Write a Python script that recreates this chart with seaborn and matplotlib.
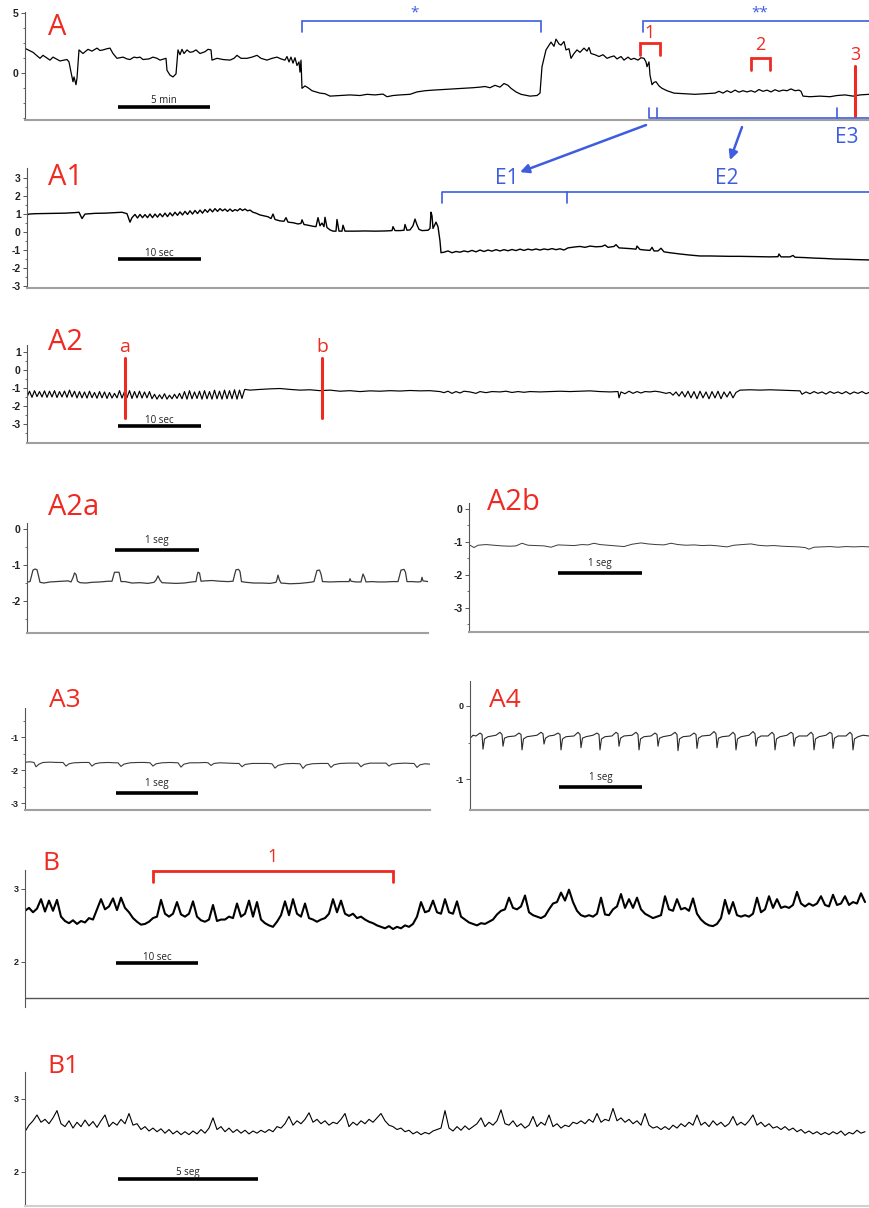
import numpy as np
import matplotlib
matplotlib.use("Agg")
import matplotlib.pyplot as plt
import seaborn as sns

sns.set_style("ticks")
plt.rcParams['font.family'] = ['Open Sans', 'DejaVu Sans']
plt.rcParams['axes.unicode_minus'] = False

W, H = 869, 1208
RED = '#ee2a22'
BLUE = '#3d5ce0'

# ---- traces: (time in samples, value in y-axis units)
a_trace = [(0, 2.03), (8, 1.7), (15, 1.2), (18, 1.45), (25, 1.05), (28, 1.3), (35, 0.98), (42, 1.1), (44, 0.9),
           (46, 0.05), (48, -0.75), (49, -0.35), (51, -1.0), (52, -0.45), (54, 1.9), (58, 1.6), (63, 1.95),
           (67, 1.8), (72, 2.05), (75, 1.85), (78, 1.9), (82, 2.0), (85, 2.05), (88, 1.6), (92, 1.2), (98, 1.3),
           (102, 1.15), (105, 1.1), (109, 1.3), (112, 1.25), (115, 1.3), (118, 1.1), (124, 1.15), (128, 1.3),
           (132, 1.2), (135, 1.05), (141, 1.2), (142, 0.2), (145, -0.2), (148, -0.35), (151, -0.1), (153, 1.9),
           (155, 1.5), (157, 1.95), (159, 1.6), (162, 1.9), (165, 1.7), (168, 1.75), (171, 1.9), (175, 1.6),
           (180, 1.75), (183, 1.95), (186, 1.9), (187, 1.05), (192, 1.2), (198, 1.1), (205, 1.05), (209, 1.2),
           (212, 1.45), (216, 1.2), (222, 1.2), (227, 1.3), (232, 1.45), (236, 1.2), (242, 1.05), (247, 1.2),
           (252, 1.3), (256, 1.15), (260, 1.05), (262, 1.35), (264, 0.9), (266, 1.3), (268, 0.8), (270, 1.25),
           (272, 0.6), (274, 0.9), (275, 0.05), (276, 1.05), (277, -1.3), (280, -1.1), (283, -1.25), (287, -1.5),
           (291, -1.6), (295, -1.7), (300, -1.75), (305, -1.95), (315, -1.9), (325, -1.85), (335, -1.9),
           (342, -1.8), (350, -1.85), (358, -1.78), (362, -2.0), (368, -1.9), (375, -1.85), (385, -1.8),
           (392, -1.6), (400, -1.5), (408, -1.45), (418, -1.4), (428, -1.35), (438, -1.3), (448, -1.25),
           (455, -1.2), (460, -1.15), (465, -1.25), (470, -1.05), (475, -1.2), (479, -0.9), (483, -1.05),
           (486, -1.3), (491, -1.6), (496, -1.8), (505, -1.95), (512, -1.9), (515, -1.7), (517, 0.5), (521, 1.9),
           (524, 2.3), (526, 2.55), (529, 2.2), (531, 2.8), (534, 2.4), (536, 2.3), (539, 2.6), (541, 1.9),
           (544, 2.0), (546, 1.2), (549, 1.6), (552, 1.9), (555, 1.7), (559, 2.05), (562, 1.8), (564, 2.1),
           (566, 1.6), (570, 1.5), (574, 1.35), (578, 1.5), (582, 1.2), (585, 1.3), (589, 1.4), (592, 1.15),
           (596, 1.35), (599, 1.05), (603, 1.3), (606, 1.1), (609, 1.2), (613, 1.05), (616, 1.25), (619, 1.2),
           (621, 0.9), (622, 0.5), (624, 0.9), (625, -0.2), (627, -1.0), (629, -0.8), (631, -0.75), (634, -1.1),
           (637, -1.3), (642, -1.5), (649, -1.7), (660, -1.75), (670, -1.8), (680, -1.75), (690, -1.7),
           (694, -1.55), (698, -1.7), (702, -1.5), (706, -1.65), (710, -1.45), (714, -1.62), (718, -1.5),
           (722, -1.6), (726, -1.5), (730, -1.62), (734, -1.4), (738, -1.55), (742, -1.45), (746, -1.6),
           (750, -1.42), (754, -1.55), (758, -1.45), (762, -1.5), (766, -1.35), (770, -1.5), (774, -1.45),
           (776, -1.55), (778, -1.95), (785, -2.0), (795, -1.95), (805, -2.0), (812, -1.9), (820, -1.85),
           (828, -1.95), (835, -1.85), (844, -1.8)]

a1_trace = [(27, 0.95), (29, 1.0), (35, 1.02), (45, 1.03), (55, 1.04), (65, 1.05), (75, 1.08), (79, 1.1),
            (82, 0.75), (85, 1.0), (95, 1.04), (105, 1.05), (115, 1.08), (122, 1.1), (127, 1.02), (130, 0.55),
            (132, 0.8), (135, 0.98), (137.5, 0.78), (140, 0.98), (142.5, 0.8), (145, 0.97), (147.5, 0.8),
            (150, 1.0), (152.5, 0.8), (155, 1.0), (157.5, 0.83), (160, 1.02), (162.5, 0.85), (165, 1.05),
            (167.5, 0.86), (170, 1.07), (172.5, 0.9), (175, 1.1), (177.5, 0.93), (180, 1.12), (182.5, 0.95),
            (185, 1.15), (187.5, 0.98), (190, 1.18), (192.5, 1.0), (195, 1.2), (197.5, 1.03), (200, 1.22),
            (202.5, 1.05), (205, 1.25), (207.5, 1.1), (210, 1.28), (212.5, 1.12), (215, 1.3), (217.5, 1.15),
            (220, 1.3), (222.5, 1.18), (225, 1.28), (227.5, 1.15), (230, 1.28), (232.5, 1.15), (235, 1.25),
            (237.5, 1.18), (240, 1.3), (242.5, 1.2), (245, 1.28), (247.5, 1.18), (250, 1.22), (253, 1.1),
            (256, 1.05), (260, 0.95), (264, 0.9), (268, 0.85), (271, 0.75), (273, 1.0), (275, 0.7), (280, 0.62),
            (284, 0.6), (286, 0.8), (288, 0.55), (293, 0.52), (298, 0.45), (301, 0.48), (302, 0.68), (304, 0.42),
            (308, 0.38), (313, 0.32), (316, 0.3), (318, 0.8), (320, 0.35), (322, 0.5), (324, 0.3), (325, 0.82),
            (327, 0.25), (330, 0.12), (333, 0.05), (336, 0.05), (337, 0.7), (339, 0.05), (342, 0.05), (343, 0.38),
            (345, 0.05), (355, 0.05), (365, 0.06), (375, 0.05), (385, 0.06), (392, 0.08), (393, 0.3), (395, 0.08),
            (400, 0.08), (404, 0.1), (405, 0.42), (407, 0.1), (410, 0.12), (413, 0.35), (415, 0.72), (417, 0.4),
            (419, 0.15), (422, 0.08), (428, 0.1), (430, 0.2), (431, 1.1), (432, 0.9), (433, 0.2), (436, 0.55),
            (438, 0.3), (440, -0.5), (441, -1.15), (444, -1.12), (448, -1.05), (452, -1.15), (456, -1.08),
            (460, -1.12), (464, -1.05), (468, -1.1), (472, -1.02), (476, -1.1), (480, -1.0), (484, -1.08),
            (488, -1.0), (492, -1.06), (496, -0.98), (500, -1.05), (504, -0.98), (508, -1.04), (512, -0.97),
            (516, -1.03), (520, -0.95), (524, -1.02), (528, -0.95), (532, -1.0), (536, -0.94), (540, -1.0),
            (544, -0.94), (548, -0.98), (552, -0.92), (556, -0.98), (560, -0.93), (564, -1.0), (568, -0.88),
            (572, -0.85), (576, -0.82), (580, -0.8), (585, -0.85), (590, -0.78), (596, -0.82), (602, -0.8),
            (605, -0.72), (608, -0.85), (614, -0.8), (616, -0.7), (619, -0.88), (625, -0.9), (630, -0.92),
            (636, -0.95), (637, -0.78), (640, -0.97), (645, -1.0), (650, -1.02), (652, -0.85), (654, -1.05),
            (658, -1.05), (661, -0.9), (664, -1.1), (670, -1.15), (680, -1.22), (690, -1.28), (700, -1.33),
            (710, -1.33), (720, -1.34), (730, -1.35), (740, -1.35), (750, -1.36), (760, -1.37), (770, -1.38),
            (778, -1.37), (779, -1.22), (781, -1.38), (790, -1.38), (793, -1.3), (795, -1.4), (805, -1.42),
            (815, -1.45), (825, -1.47), (835, -1.5), (845, -1.51), (855, -1.53), (869, -1.55)]

# A2: regular burst (one value every 2.5 samples from t=27), then the quieter part
a2_burst = [-1.5, -1.18, -1.52, -1.15, -1.48, -1.2, -1.5, -1.16, -1.52, -1.18, -1.5, -1.15, -1.53, -1.2,
            -1.5, -1.17, -1.52, -1.12, -1.5, -1.18, -1.55, -1.2,
            -1.55, -1.22, -1.56, -1.18, -1.54, -1.25, -1.57, -1.2, -1.55, -1.22, -1.58, -1.25, -1.56, -1.3,
            -1.55, -1.15, -1.56, -1.2, -1.54, -1.15, -1.58, -1.2, -1.55, -1.18, -1.56, -1.22, -1.55, -1.2,
            -1.6, -1.35, -1.62, -1.38, -1.6, -1.32, -1.62, -1.4, -1.6, -1.35, -1.58, -1.3,
            -1.6, -1.2, -1.62, -1.15, -1.6, -1.22, -1.58, -1.18, -1.62, -1.15, -1.6, -1.2, -1.62, -1.12,
            -1.6, -1.18, -1.62, -1.12, -1.6, -1.15, -1.6, -1.1, -1.62, -1.12, -1.58, -1.1]
a2_rest = [(245, -1.08), (250, -1.12), (260, -1.08), (270, -1.05), (280, -1.03), (290, -1.08), (300, -1.12),
           (310, -1.1), (320, -1.15), (330, -1.12), (340, -1.18), (350, -1.15), (360, -1.2), (370, -1.16),
           (380, -1.18), (390, -1.15), (400, -1.17), (410, -1.14), (420, -1.16), (430, -1.15), (440, -1.2),
           (444, -1.26), (448, -1.18), (452, -1.3), (456, -1.2), (460, -1.28), (464, -1.18), (470, -1.22),
           (476, -1.3), (480, -1.2), (486, -1.26), (492, -1.2), (500, -1.22), (506, -1.18), (512, -1.25),
           (518, -1.2), (524, -1.24), (530, -1.2), (540, -1.22), (550, -1.2), (560, -1.18), (570, -1.2),
           (580, -1.18), (590, -1.16), (600, -1.2), (610, -1.22), (618, -1.2), (619, -1.55), (621, -1.22),
           (625, -1.32), (629, -1.18), (633, -1.3), (637, -1.2), (641, -1.28), (645, -1.2), (650, -1.22),
           (655, -1.18), (660, -1.22), (666, -1.3), (670, -1.25), (673, -1.4), (676, -1.22), (679, -1.45),
           (682, -1.2), (685, -1.5), (688, -1.18), (691, -1.55), (694, -1.2), (697, -1.6), (700, -1.18),
           (703, -1.55), (706, -1.22), (709, -1.6), (712, -1.2), (715, -1.55), (718, -1.18), (721, -1.6),
           (724, -1.22), (727, -1.5), (730, -1.2), (733, -1.55), (736, -1.25), (740, -1.12), (750, -1.1),
           (760, -1.12), (770, -1.1), (780, -1.12), (790, -1.14), (800, -1.16), (802, -1.35), (806, -1.22),
           (810, -1.32), (814, -1.2), (818, -1.3), (822, -1.22), (826, -1.34), (830, -1.2), (834, -1.3),
           (838, -1.22), (842, -1.32), (846, -1.2), (850, -1.34), (854, -1.22), (858, -1.3), (862, -1.2),
           (866, -1.32), (869, -1.25)]

a2a_trace = [(28, -1.47), (30, -1.46), (31.5, -1.3), (33, -1.14), (35, -1.11), (37, -1.13), (38.5, -1.3),
             (40, -1.48), (44, -1.5), (50, -1.47), (56, -1.46), (62, -1.45), (68, -1.44), (71, -1.47),
             (73, -1.35), (74.5, -1.22), (76, -1.26), (77.5, -1.45), (80, -1.49), (86, -1.5), (92, -1.48),
             (100, -1.47), (108, -1.45), (112, -1.45), (113.5, -1.3), (114.5, -1.2), (119, -1.2), (120, -1.32),
             (121, -1.46), (125, -1.46), (132, -1.5), (140, -1.49), (148, -1.51), (154, -1.48), (156, -1.42),
             (158, -1.3), (160, -1.42), (162, -1.49), (168, -1.5), (176, -1.51), (184, -1.5), (192, -1.47),
             (196, -1.46), (197, -1.3), (198, -1.2), (199.5, -1.22), (201, -1.45), (205, -1.44), (212, -1.43),
             (220, -1.45), (228, -1.46), (233, -1.45), (234.5, -1.28), (236, -1.13), (238.5, -1.12),
             (240, -1.18), (241.5, -1.46), (246, -1.48), (254, -1.5), (262, -1.5), (270, -1.51), (276, -1.48),
             (277, -1.4), (278, -1.28), (279.5, -1.42), (281, -1.5), (290, -1.52), (300, -1.51), (310, -1.48),
             (314, -1.46), (315.5, -1.3), (317, -1.15), (319.5, -1.14), (321, -1.25), (322.5, -1.46),
             (330, -1.47), (340, -1.46), (349, -1.46), (350, -1.38), (351, -1.45), (356, -1.47), (361, -1.47),
             (362, -1.35), (363, -1.25), (364.5, -1.34), (366, -1.47), (372, -1.46), (378, -1.47), (385, -1.47),
             (392, -1.46), (398, -1.46), (399.5, -1.3), (401, -1.14), (404, -1.12), (405.5, -1.2), (407, -1.46),
             (412, -1.46), (418, -1.47), (421, -1.46), (422, -1.34), (423, -1.44), (428, -1.46)]

a2b_trace = [(470, -1.10), (474, -1.17), (478, -1.10), (486, -1.08), (494, -1.10), (502, -1.12), (510, -1.13),
             (516, -1.12), (522, -1.04), (528, -1.10), (536, -1.11), (544, -1.12), (551, -1.16), (558, -1.09),
             (566, -1.10), (574, -1.11), (582, -1.08), (588, -1.09), (594, -1.04), (600, -1.08), (608, -1.10),
             (616, -1.12), (624, -1.14), (632, -1.07), (641, -1.03), (648, -1.06), (656, -1.08), (664, -1.09),
             (671, -1.04), (678, -1.08), (686, -1.10), (694, -1.09), (702, -1.11), (710, -1.10), (718, -1.12),
             (727, -1.15), (734, -1.10), (742, -1.08), (751, -1.06), (758, -1.10), (766, -1.12), (774, -1.11),
             (782, -1.13), (790, -1.14), (798, -1.15), (805, -1.17), (809, -1.22), (814, -1.16), (822, -1.15),
             (830, -1.14), (838, -1.16), (846, -1.14), (854, -1.15), (862, -1.14), (869, -1.15)]

a3_trace = [(26, -1.76), (30, -1.75), (34, -1.77), (36, -1.9), (39, -1.82), (43, -1.77), (50, -1.76), (57, -1.77),
            (63, -1.77), (66, -1.88), (69, -1.81), (74, -1.78), (82, -1.77), (89, -1.77), (92, -1.88), (95, -1.81),
            (100, -1.78), (108, -1.77), (115, -1.78), (118, -1.78), (121, -1.89), (124, -1.82), (130, -1.78),
            (138, -1.77), (145, -1.77), (150, -1.78), (153, -1.88), (156, -1.81), (162, -1.78), (170, -1.77),
            (178, -1.78), (181, -1.91), (184, -1.82), (190, -1.78), (198, -1.78), (205, -1.77), (208, -1.78),
            (211, -1.86), (214, -1.8), (220, -1.78), (228, -1.79), (236, -1.8), (239, -1.8), (242, -1.9),
            (245, -1.83), (252, -1.8), (260, -1.8), (268, -1.8), (272, -1.81), (275, -1.94), (278, -1.86),
            (285, -1.81), (293, -1.8), (300, -1.81), (303, -1.95), (306, -1.85), (312, -1.81), (320, -1.8),
            (328, -1.8), (331, -1.92), (334, -1.84), (340, -1.8), (348, -1.79), (355, -1.79), (358, -1.79),
            (361, -1.9), (364, -1.83), (370, -1.79), (378, -1.79), (386, -1.79), (389, -1.88), (392, -1.82),
            (398, -1.8), (405, -1.79), (412, -1.8), (414, -1.8), (417, -1.92), (420, -1.84), (425, -1.81),
            (430, -1.82)]

a4_trace = [(471, -0.43), (473, -0.40),
            (476, -0.41), (480, -0.37), (482, -0.39), (483, -0.59), (484.5, -0.45), (488, -0.42),
            (496, -0.40), (500, -0.36), (502, -0.39), (503, -0.55), (504.5, -0.44), (508, -0.42),
            (515, -0.41), (519, -0.37), (521, -0.39), (522, -0.60), (523.5, -0.45), (527, -0.42),
            (537, -0.40), (541, -0.36), (543, -0.38), (544, -0.52), (545.5, -0.44), (549, -0.41),
            (554, -0.40), (558, -0.37), (560, -0.39), (561, -0.60), (562.5, -0.45), (566, -0.42),
            (574, -0.41), (578, -0.36), (580, -0.39), (581, -0.57), (582.5, -0.44), (586, -0.42),
            (593, -0.40), (597, -0.37), (599, -0.39), (600, -0.60), (601.5, -0.45), (605, -0.42),
            (612, -0.41), (616, -0.36), (618, -0.38), (619, -0.55), (620.5, -0.44), (624, -0.41),
            (632, -0.40), (636, -0.36), (638, -0.39), (639, -0.60), (640.5, -0.45), (644, -0.42),
            (651, -0.41), (655, -0.37), (657, -0.39), (658, -0.55), (659.5, -0.44), (663, -0.42),
            (671, -0.40), (675, -0.36), (677, -0.39), (678, -0.61), (679.5, -0.45), (683, -0.42),
            (690, -0.41), (694, -0.37), (696, -0.39), (697, -0.58), (698.5, -0.44), (702, -0.41),
            (710, -0.40), (714, -0.35), (716, -0.38), (717, -0.57), (718.5, -0.44), (722, -0.42),
            (729, -0.41), (733, -0.36), (735, -0.39), (736, -0.60), (737.5, -0.45), (741, -0.42),
            (749, -0.40), (753, -0.35), (755, -0.38), (756, -0.55), (757.5, -0.44), (761, -0.41),
            (768, -0.41), (772, -0.36), (774, -0.39), (775, -0.60), (776.5, -0.45), (780, -0.42),
            (787, -0.40), (791, -0.36), (793, -0.38), (794, -0.55), (795.5, -0.44), (799, -0.41),
            (807, -0.41), (811, -0.36), (813, -0.39), (814, -0.60), (815.5, -0.45), (819, -0.42),
            (826, -0.40), (830, -0.36), (832, -0.38), (833, -0.58), (834.5, -0.44), (838, -0.41),
            (846, -0.41), (850, -0.36), (852, -0.39), (853, -0.60), (854.5, -0.45), (858, -0.42),
            (863, -0.40), (869, -0.41)]

# B and B1: one value every 4 samples from t=25
b_values = [2.70, 2.74, 2.68, 2.73, 2.86, 2.69, 2.84, 2.70, 2.85, 2.62,
            2.56, 2.53, 2.57, 2.52, 2.56, 2.54, 2.60, 2.58, 2.72, 2.86,
            2.72, 2.76, 2.87, 2.71, 2.88, 2.74, 2.68, 2.60, 2.55, 2.51,
            2.52, 2.55, 2.60, 2.62, 2.85, 2.66, 2.62, 2.66, 2.82, 2.65,
            2.62, 2.66, 2.83, 2.62, 2.57, 2.55, 2.58, 2.78, 2.56, 2.58,
            2.58, 2.62, 2.60, 2.80, 2.62, 2.66, 2.84, 2.62, 2.82, 2.58,
            2.53, 2.50, 2.48, 2.55, 2.64, 2.83, 2.64, 2.86, 2.66, 2.62,
            2.80, 2.60, 2.58, 2.55, 2.58, 2.60, 2.66, 2.86, 2.68, 2.84,
            2.66, 2.63, 2.66, 2.60, 2.62, 2.58, 2.55, 2.53, 2.50, 2.48,
            2.46, 2.49, 2.45, 2.48, 2.46, 2.50, 2.48, 2.52, 2.62, 2.82,
            2.68, 2.70, 2.84, 2.68, 2.66, 2.86, 2.68, 2.66, 2.83, 2.62,
            2.58, 2.54, 2.52, 2.50, 2.53, 2.52, 2.55, 2.58, 2.65, 2.70,
            2.72, 2.88, 2.74, 2.72, 2.76, 2.91, 2.68, 2.64, 2.62, 2.60,
            2.63, 2.72, 2.80, 2.82, 2.95, 2.84, 2.99, 2.82, 2.70, 2.64,
            2.62, 2.64, 2.62, 2.66, 2.88, 2.65, 2.64, 2.72, 2.76, 2.93,
            2.74, 2.86, 2.74, 2.88, 2.72, 2.66, 2.63, 2.60, 2.62, 2.64,
            2.90, 2.72, 2.70, 2.86, 2.72, 2.74, 2.70, 2.87, 2.66, 2.58,
            2.53, 2.50, 2.49, 2.52, 2.60, 2.85, 2.66, 2.82, 2.64, 2.62,
            2.64, 2.62, 2.66, 2.88, 2.68, 2.72, 2.90, 2.74, 2.86, 2.74,
            2.76, 2.74, 2.78, 2.96, 2.80, 2.76, 2.80, 2.77, 2.80, 2.90,
            2.78, 2.76, 2.92, 2.78, 2.80, 2.90, 2.78, 2.82, 2.80, 2.94, 2.82]

b1_values = [2.55, 2.64, 2.70, 2.78, 2.68, 2.72, 2.66, 2.74, 2.84, 2.66,
             2.62, 2.70, 2.60, 2.68, 2.62, 2.71, 2.63, 2.69, 2.61, 2.70,
             2.78, 2.62, 2.68, 2.64, 2.72, 2.66, 2.80, 2.64, 2.66, 2.58,
             2.62, 2.56, 2.60, 2.55, 2.59, 2.53, 2.58, 2.52, 2.56, 2.51,
             2.55, 2.51, 2.56, 2.52, 2.58, 2.53, 2.60, 2.74, 2.58, 2.62,
             2.55, 2.60, 2.54, 2.58, 2.53, 2.57, 2.52, 2.56, 2.53, 2.57,
             2.54, 2.58, 2.55, 2.62, 2.60, 2.66, 2.76, 2.64, 2.70, 2.66,
             2.72, 2.81, 2.68, 2.72, 2.66, 2.70, 2.64, 2.68, 2.66, 2.72,
             2.80, 2.62, 2.68, 2.64, 2.70, 2.66, 2.72, 2.68, 2.74, 2.80,
             2.70, 2.64, 2.62, 2.58, 2.60, 2.55, 2.57, 2.52, 2.55, 2.51,
             2.54, 2.52, 2.56, 2.58, 2.60, 2.84, 2.60, 2.56, 2.62, 2.57,
             2.63, 2.58, 2.62, 2.66, 2.74, 2.62, 2.68, 2.64, 2.70, 2.85,
             2.66, 2.64, 2.70, 2.62, 2.66, 2.60, 2.64, 2.76, 2.62, 2.68,
             2.64, 2.78, 2.62, 2.66, 2.60, 2.64, 2.62, 2.68, 2.66, 2.70,
             2.66, 2.72, 2.68, 2.80, 2.68, 2.72, 2.70, 2.87, 2.70, 2.74,
             2.68, 2.72, 2.66, 2.70, 2.64, 2.80, 2.64, 2.60, 2.62, 2.58,
             2.62, 2.58, 2.64, 2.60, 2.66, 2.62, 2.68, 2.64, 2.78, 2.64,
             2.68, 2.62, 2.70, 2.64, 2.68, 2.62, 2.66, 2.76, 2.64, 2.68,
             2.64, 2.70, 2.78, 2.64, 2.68, 2.62, 2.66, 2.60, 2.62, 2.58,
             2.62, 2.57, 2.60, 2.55, 2.58, 2.53, 2.56, 2.52, 2.55, 2.51,
             2.54, 2.51, 2.55, 2.52, 2.56, 2.50, 2.54, 2.52, 2.57, 2.53, 2.55]

# scale bars: (start, end, bar level, label level, label)
scale_bars = {
    'A':   (93, 185, -2.83, -2.5, '5 min'),
    'A1':  (118, 201, -1.5, -1.33, '10 sec'),
    'A2':  (118, 201, -3.11, -2.93, '10 sec'),
    'A2a': (115, 199, -0.58, -0.4, '1 seg'),
    'A2b': (558, 642, -1.93, -1.73, '1 seg'),
    'A3':  (116, 198, -2.71, -2.48, '1 seg'),
    'A4':  (559, 642, -1.1, -1.01, '1 seg'),
    'B':   (116, 198, 1.98, 2.03, '10 sec'),
    'B1':  (118, 258, 1.9, 1.96, '5 seg'),
}

fig = plt.figure(figsize=(W / 100, H / 100), dpi=100)


def panel(left, top, right, bottom):
    return fig.add_axes([left / W, 1 - bottom / H, (right - left) / W, (bottom - top) / H])


def style(ax, xlim, ylim, major, minor=(), bottom='#a0a0a0', fs=7.5):
    ax.set_xlim(*xlim)
    ax.set_ylim(*ylim)
    ax.set_xticks([])
    ax.set_yticks(major)
    ax.set_yticklabels([f'{v:g}' for v in major])
    ax.set_yticks(list(minor), minor=True)
    ax.spines['top'].set_visible(False)
    ax.spines['right'].set_visible(False)
    ax.spines['left'].set_color('#555')
    ax.spines['left'].set_linewidth(0.8)
    ax.spines['bottom'].set_color(bottom)
    ax.spines['bottom'].set_linewidth(1.5)
    ax.tick_params(axis='y', which='major', length=3, width=0.7, color='#555',
                   labelsize=fs, labelcolor='#222', pad=1.5)
    ax.tick_params(axis='y', which='minor', length=1.8, width=0.6, color='#555')
    plt.setp(ax.get_yticklabels(), fontweight='bold', family=['Liberation Sans', 'DejaVu Sans'])
    ax.patch.set_alpha(0)


def trace(ax, t, v, color='black', lw=0.9):
    sns.lineplot(x=list(t), y=list(v), ax=ax, color=color, linewidth=lw,
                 estimator=None, sort=False, legend=False)
    ax.set_xlabel('')
    ax.set_ylabel('')


def scalebar(ax, key):
    t0, t1, y, ytxt, label = scale_bars[key]
    ax.plot([t0, t1], [y, y], color='black', lw=2.6, solid_capstyle='butt')
    ax.text((t0 + t1) / 2, ytxt, label, ha='center', va='baseline', fontsize=7, color='#222')


def plabel(text, x, y, size=21):
    fig.text(x / W, 1 - y / H, text, color=RED, fontsize=size, ha='left', va='baseline')


def bracket(ax, x0, x1, ytop, ylow, color, lw, right_tick=True):
    xs = [x0, x0, x1] + ([x1] if right_tick else [])
    ys = [ylow, ytop, ytop] + ([ylow] if right_tick else [])
    ax.plot(xs, ys, color=color, lw=lw, clip_on=False, solid_joinstyle='miter')


# ---- A
ax_a = panel(25, 12, 869, 120)
t, v = zip(*a_trace)
trace(ax_a, t, v, lw=0.9)
style(ax_a, (0, 844), (-3.94, 5.06), [0, 5], minor=[-3.75, -2.5, -1.25, 1.25, 2.5, 3.75])
scalebar(ax_a, 'A')
bracket(ax_a, 277, 516, 4.31, 3.39, BLUE, 1.2)
bracket(ax_a, 618, 860, 4.31, 3.39, BLUE, 1.2, right_tick=False)
ax_a.text(390, 5.0, '*', color=BLUE, fontsize=11, ha='center', va='center', clip_on=False)
ax_a.text(735, 5.0, '**', color=BLUE, fontsize=11, ha='center', va='center', clip_on=False)
bracket(ax_a, 615, 635, 2.47, 1.47, RED, 2)
ax_a.text(625, 3.3, '1', color=RED, fontsize=13, ha='center', va='center')
bracket(ax_a, 726, 745, 1.22, 0.22, RED, 2)
ax_a.text(735, 2.3, '2', color=RED, fontsize=13, ha='center', va='center')
ax_a.plot([830, 830], [0.56, -3.6], color=RED, lw=2.2, clip_on=False)
ax_a.text(830, 1.47, '3', color=RED, fontsize=13, ha='center', va='center')
ax_a.plot([624, 624, 860], [-2.94, -3.78, -3.78], color=BLUE, lw=1.2, clip_on=False)
for xt in (632, 812):
    ax_a.plot([xt, xt], [-3.78, -2.94], color=BLUE, lw=1.2, clip_on=False)
ax_a.text(810, -5.36, 'E3', color=BLUE, fontsize=15, ha='left', va='center', clip_on=False)

# ---- A1
ax_a1 = panel(27, 168, 869, 288)
t, v = zip(*a1_trace)
trace(ax_a1, t, v, lw=1.0)
style(ax_a1, (27, 869), (-3.11, 3.56), [-3, -2, -1, 0, 1, 2, 3],
      minor=[-2.5, -1.5, -0.5, 0.5, 1.5, 2.5])
scalebar(ax_a1, 'A1')
ax_a1.plot([442, 442, 880], [1.6, 2.22, 2.22], color=BLUE, lw=1.2, clip_on=False)
ax_a1.plot([567, 567], [2.22, 1.6], color=BLUE, lw=1.2)
ax_a1.text(507, 3.0, 'E1', color=BLUE, fontsize=15, ha='center', va='center')
ax_a1.text(727, 3.0, 'E2', color=BLUE, fontsize=15, ha='center', va='center')
arrow = dict(arrowstyle='-|>', color=BLUE, lw=1.8, mutation_scale=13, shrinkA=0, shrinkB=0)
ax_a1.annotate('', xy=(520, 3.33), xycoords='data', xytext=(621, -4.36), textcoords=ax_a.transData,
               arrowprops=arrow, annotation_clip=False)
ax_a1.annotate('', xy=(730, 4.0), xycoords='data', xytext=(717, -4.53), textcoords=ax_a.transData,
               arrowprops=arrow, annotation_clip=False)

# ---- A2
ax_a2 = panel(27, 345, 869, 443)
t_burst = 27 + 2.5 * np.arange(len(a2_burst))
t_rest, v_rest = zip(*a2_rest)
trace(ax_a2, list(t_burst) + list(t_rest), a2_burst + list(v_rest), lw=0.85)
style(ax_a2, (27, 869), (-4.06, 1.39), [-3, -2, -1, 0, 1], minor=[-3.5, -2.5, -1.5, -0.5, 0.5])
scalebar(ax_a2, 'A2')
for xm, lab in ((125, 'a'), (322, 'b')):
    ax_a2.plot([xm, xm], [0.67, -2.67], color=RED, lw=2.2)
    ax_a2.text(xm, 1.3, lab, color=RED, fontsize=14, ha='center', va='center', clip_on=False)

# ---- A2a / A2b
ax_a2a = panel(27, 523, 428, 633)
t, v = zip(*a2a_trace)
trace(ax_a2a, t, v, color='#3a3a3a', lw=0.9)
style(ax_a2a, (27, 428), (-2.89, 0.17), [-2, -1, 0], minor=[-2.5, -1.5, -0.5])
scalebar(ax_a2a, 'A2a')

ax_a2b = panel(469, 503, 869, 632)
t, v = zip(*a2b_trace)
trace(ax_a2b, t, v, color='#3a3a3a', lw=0.7)
style(ax_a2b, (469, 869), (-3.73, 0.18), [-3, -2, -1, 0], minor=[-3.5, -2.5, -1.5, -0.5])
scalebar(ax_a2b, 'A2b')

# ---- A3 / A4
ax_a3 = panel(25, 708, 430, 810)
t, v = zip(*a3_trace)
trace(ax_a3, t, v, color='#3a3a3a', lw=0.8)
style(ax_a3, (25, 430), (-3.21, -0.12), [-3, -2, -1], minor=[-2.5, -1.5, -0.5], fs=6.5)
scalebar(ax_a3, 'A3')

ax_a4 = panel(470, 681, 869, 810)
t, v = zip(*a4_trace)
trace(ax_a4, t, v, color='#2a2a2a', lw=0.8)
style(ax_a4, (470, 869), (-1.42, 0.34), [-1, 0], minor=[-0.5], fs=6.5)
scalebar(ax_a4, 'A4')

# ---- B
ax_b = panel(25, 870, 869, 1007)
trace(ax_b, 25 + 4 * np.arange(len(b_values)), b_values, lw=1.5)
style(ax_b, (25, 869), (1.38, 3.26), [2, 3], fs=6.5)
ax_b.spines['bottom'].set_visible(False)
ax_b.axhline(1.5, color='#555', lw=1.0)
scalebar(ax_b, 'B')
bracket(ax_b, 153, 393, 3.25, 3.1, RED, 2)
ax_b.text(273, 3.44, '1', color=RED, fontsize=13, ha='center', va='center', clip_on=False)

# ---- B1
ax_b1 = panel(25, 1072, 869, 1206)
trace(ax_b1, 25 + 4 * np.arange(len(b1_values)), b1_values, lw=0.8)
style(ax_b1, (25, 869), (1.53, 3.37), [2, 3], bottom='#d0d0d0', fs=6.5)
scalebar(ax_b1, 'B1')

# panel letters
plabel('A', 48, 35)
plabel('A1', 48, 185)
plabel('A2', 48, 350)
plabel('A2a', 48, 515)
plabel('A2b', 487, 510)
plabel('A3', 49, 707, size=19)
plabel('A4', 489, 707, size=19)
plabel('B', 42, 870, size=19)
plabel('B1', 47, 1073, size=19)

fig.savefig('out.png', dpi=100)
